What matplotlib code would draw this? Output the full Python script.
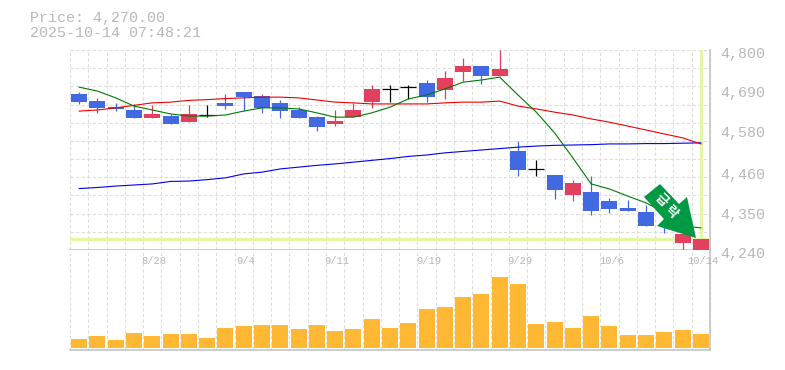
import numpy as np
import matplotlib
matplotlib.use("Agg")
import matplotlib.pyplot as plt
from matplotlib.patches import Polygon, Rectangle
from matplotlib.transforms import Affine2D

# --- DATA ---
opens  = [4677, 4657, 4640, 4632, 4610, 4615, 4598, 4619, 4652, 4682, 4671, 4652, 4632, 4612, 4593, 4612, 4654, 4691,
          4696, 4708, 4688, 4738, 4755, 4727, 4517, 4466, 4450, 4394, 4402, 4377, 4358, 4346, 4380, 4260, 4234]
highs  = [4682, 4666, 4652, 4649, 4646, 4621, 4646, 4646, 4677, 4682, 4677, 4660, 4640, 4615, 4632, 4652, 4702, 4702,
          4702, 4716, 4741, 4778, 4755, 4800, 4545, 4492, 4450, 4436, 4447, 4386, 4380, 4366, 4380, 4285, 4271]
lows   = [4649, 4624, 4629, 4610, 4610, 4593, 4598, 4612, 4635, 4629, 4624, 4610, 4610, 4573, 4587, 4612, 4638, 4654,
          4663, 4654, 4663, 4713, 4705, 4727, 4447, 4447, 4383, 4377, 4338, 4344, 4349, 4307, 4288, 4237, 4234]
closes = [4654, 4638, 4635, 4610, 4621, 4593, 4621, 4619, 4643, 4668, 4638, 4629, 4610, 4584, 4601, 4632, 4691, 4691,
          4696, 4668, 4722, 4755, 4727, 4747, 4464, 4466, 4408, 4428, 4349, 4355, 4349, 4307, 4355, 4285, 4270]

ma_short = [4696, 4685, 4666, 4643, 4632, 4621, 4615, 4615, 4618, 4629, 4638, 4638, 4635, 4624, 4612, 4612, 4624, 4640,
            4663, 4674, 4691, 4710, 4716, 4724, 4674, 4626, 4568, 4498, 4425, 4411, 4391, 4372, 4346, 4307, 4302]
ma_mid   = [4629, 4632, 4638, 4645, 4652, 4654, 4659, 4661, 4664, 4666, 4668, 4668, 4666, 4660, 4654, 4652, 4649, 4649,
            4649, 4649, 4652, 4654, 4654, 4657, 4643, 4635, 4626, 4618, 4607, 4598, 4587, 4576, 4565, 4554, 4537]
ma_long  = [4412, 4415, 4419, 4422, 4425, 4432, 4433, 4437, 4442, 4453, 4458, 4467, 4472, 4477, 4481, 4486, 4491, 4496,
            4502, 4506, 4512, 4516, 4520, 4524, 4528, 4531, 4533, 4534, 4535, 4537, 4537, 4538, 4538, 4539, 4540]

volume = [9, 12, 8, 15, 12, 14, 14, 10, 20, 22, 23, 23, 19, 23, 17, 19, 29, 20,
          25, 39, 41, 51, 54, 71, 64, 24, 26, 20, 32, 22, 13, 13, 16, 18, 14]

date_pos = [4, 9, 14, 19, 24, 29, 34]
date_labels = ["8/28", "9/4", "9/11", "9/19", "9/29", "10/6", "10/14"]
price_labels = [4800, 4690, 4580, 4460, 4350, 4240]
last_price = 4270

# --- STYLE ---
W, H = 785, 370
GRID = "#dddddd"
AXIS = "#c0c0c0"
TEXT = "#b8b8b8"
UP = "#e2405f"
DOWN = "#4169e1"
HILITE = "#e4f5a6"
ARROW = "#009a44"
MONO = "Liberation Mono"

plt.rcParams["font.family"] = ["Noto Sans CJK KR", "DejaVu Sans"]

fig = plt.figure(figsize=(W / 100, H / 100), dpi=100)
ax = fig.add_axes([70 / W, 1 - 250 / H, 640 / W, 200 / H])
vax = fig.add_axes([70 / W, 1 - 350 / H, 640 / W, 100 / H])

x = np.arange(len(closes))
edges = np.arange(len(closes) + 1) - 0.5

for a in (ax, vax):
    a.set_xlim(-0.5, len(closes) - 0.5)
    a.set_xticks(edges)
    a.tick_params(length=0, labelbottom=False, labelleft=False)
    a.grid(True, color=GRID, linewidth=0.8, linestyle=(0, (3, 2)))
    a.set_axisbelow(True)
    for s in a.spines.values():
        s.set_visible(False)
    a.spines["right"].set_visible(True)
    a.spines["right"].set_color(AXIS)
    a.spines["right"].set_linewidth(1.1)
    a.spines["bottom"].set_visible(True)
    a.spines["bottom"].set_color(AXIS)
    a.spines["bottom"].set_linewidth(1.1)

# price panel
ax.set_ylim(4240, 4800)
ax.set_yticks(np.linspace(4240, 4800, 12))
for g in ax.get_xgridlines() + ax.get_ygridlines() + vax.get_xgridlines():
    g.set_clip_on(False)

# highlight lines for the last price / last candle
ax.axhline(last_price, color=HILITE, linewidth=2.4, zorder=1.5)
ax.axvline(x[-1], color=HILITE, linewidth=2.2, zorder=1.5)

for i in x:
    o, h, l, c = opens[i], highs[i], lows[i], closes[i]
    col = UP if c > o else DOWN if c < o else "black"
    ax.plot([i, i], [l, h], color=col, linewidth=0.9, zorder=3, clip_on=False, solid_capstyle="butt")
    if c == o:
        ax.plot([i - 0.44, i + 0.44], [c, c], color=col, linewidth=0.9, zorder=3, solid_capstyle="butt")
    else:
        ax.add_patch(Rectangle((i - 0.44, min(o, c)), 0.88, abs(c - o), facecolor=col, edgecolor="none",
                               zorder=3, clip_on=False))

ax.plot(x, ma_long, color="#0000ee", linewidth=0.8, zorder=4)
ax.plot(x, ma_mid, color="#ee0000", linewidth=0.8, zorder=4)
ax.plot(x, ma_short, color="#007a00", linewidth=0.8, zorder=4)

for p in price_labels:
    ax.annotate(f"{p:,}", xy=(1, p), xycoords=("axes fraction", "data"), xytext=(10, -4),
                textcoords="offset pixels", color=TEXT, fontsize=10.8, family=MONO, va="center", ha="left",
                annotation_clip=False)

# volume panel
vax.set_ylim(-2, 98)
vax.set_yticks([])
vax.bar(x, volume, width=0.88, color="#ffb833", zorder=3)
for p, lbl in zip(date_pos, date_labels):
    vax.annotate(lbl, xy=(p, 1), xycoords=("data", "axes fraction"), xytext=(2, -11),
                 textcoords="offset pixels", color=TEXT, fontsize=7.6, family=MONO, va="center", ha="center",
                 annotation_clip=False)

# header
fig.text(30 / W, 1 - 18 / H, "Price: 4,270.00", color=TEXT, fontsize=10.8, family=MONO, va="center")
fig.text(30 / W, 1 - 33 / H, "2025-10-14 07:48:21", color=TEXT, fontsize=10.8, family=MONO, va="center")

# sell signal arrow, placed in pixel space
to_fig = Affine2D().scale(1 / W, -1 / H).translate(0, 1) + fig.transFigure
arrow_px = [(660, 184), (644, 197), (664, 219), (657, 226), (696, 238), (687, 197), (679, 204)]
fig.add_artist(Polygon(arrow_px, closed=True, facecolor=ARROW, edgecolor="none", transform=to_fig, zorder=10))
for ch, (cx, cy) in zip("급락", [(661, 200), (671, 212)]):
    fig.text(cx / W, 1 - cy / H, ch, color="white", fontsize=9.6, fontweight="bold", rotation=-45,
             rotation_mode="anchor", ha="center", va="center", zorder=11)

fig.savefig("out.png", dpi=100)
